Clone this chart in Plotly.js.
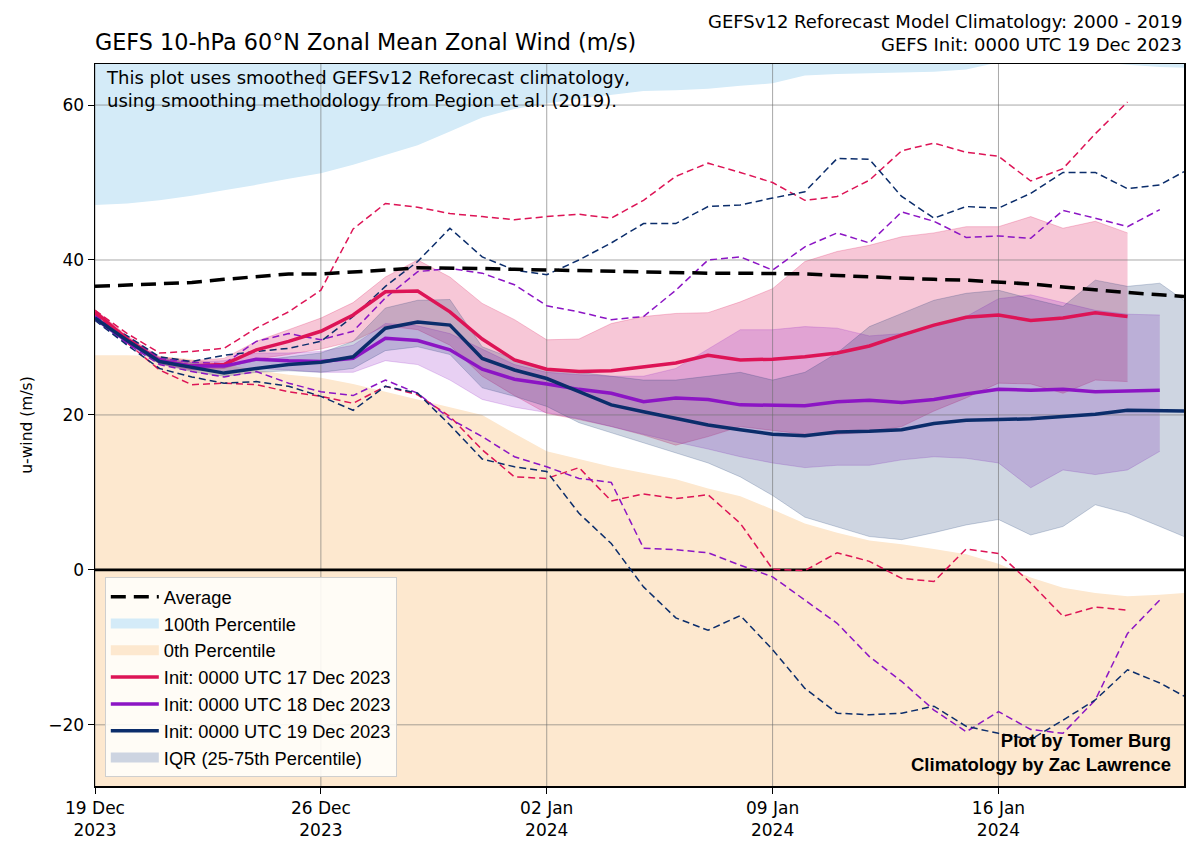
<!DOCTYPE html>
<html>
<head>
<meta charset="utf-8">
<script src="https://cdn.plot.ly/plotly-3.0.1.min.js"></script>
<style>html,body{margin:0;padding:0;background:#fff;}#chart{width:1200px;height:854px;}</style>
</head>
<body>
<div id="chart"></div>
<script>
// ---------------- DATA ----------------
const dates = ['2023-12-19','2023-12-20','2023-12-21','2023-12-22','2023-12-23','2023-12-24','2023-12-25',
  '2023-12-26','2023-12-27','2023-12-28','2023-12-29','2023-12-30','2023-12-31','2024-01-01','2024-01-02',
  '2024-01-03','2024-01-04','2024-01-05','2024-01-06','2024-01-07','2024-01-08','2024-01-09','2024-01-10',
  '2024-01-11','2024-01-12','2024-01-13','2024-01-14','2024-01-15','2024-01-16','2024-01-17','2024-01-18',
  '2024-01-19','2024-01-20','2024-01-21','2024-01-21 18:00'];

const climMax = [47.1,47.3,47.7,48.3,49.0,49.7,50.5,51.2,52.3,53.6,54.8,56.6,58.4,59.5,60.2,60.8,61.3,61.8,61.9,62.1,62.5,62.8,63.8,64.0,64.1,64.2,64.3,64.6,65.5,65.7,65.7,65.6,65.2,64.9,64.8];
const climMin = [27.7,27.7,27.6,27.2,26.5,25.8,25.2,24.8,24.0,23.0,22.0,21.0,20.0,17.6,15.3,14.3,13.3,12.5,11.7,10.5,9.5,7.8,6.0,4.8,3.8,3.3,2.7,2.0,0.8,-1.0,-2.3,-3.0,-3.4,-3.2,-3.0];
const average = [36.6,36.8,37.0,37.1,37.5,37.9,38.2,38.2,38.4,38.7,39.0,39.0,38.9,38.8,38.7,38.7,38.6,38.5,38.4,38.3,38.3,38.3,38.2,38.0,37.8,37.6,37.5,37.4,37.2,36.9,36.5,36.1,35.8,35.5,35.3];

// Init 0000 UTC 17 Dec 2023
const mean17 = [33.3,29.8,27.0,26.3,26.5,28.4,29.5,30.8,32.9,35.9,36.0,33.3,29.8,27.1,25.9,25.6,25.7,26.2,26.7,27.7,27.1,27.2,27.5,28.0,28.9,30.3,31.6,32.6,32.9,32.2,32.5,33.2,32.7];
const max17 = [33.5,30.5,28.0,28.2,28.6,31.2,33.3,36.1,44.0,47.3,46.8,46.0,45.6,45.2,45.6,45.9,45.4,47.7,50.8,52.5,51.3,50.0,47.7,48.2,50.3,54.1,55.1,53.9,53.4,50.2,51.8,56.3,60.4];
const min17 = [33.0,29.3,25.8,23.9,24.1,23.9,23.0,22.4,21.5,23.7,22.6,19.8,15.5,12.0,11.8,13.2,8.9,9.8,9.2,9.7,6.0,0.1,-0.1,2.2,1.1,-1.1,-1.5,2.7,2.1,-1.7,-6.0,-4.8,-5.2];
const q75_17 = [33.6,30.2,27.5,27.0,27.3,29.5,31.0,32.5,34.5,37.8,40.0,37.8,34.4,32.3,29.7,29.8,31.8,32.7,33.1,33.2,34.6,36.3,39.8,41.1,41.9,43.0,43.5,44.3,44.3,45.6,44.1,45.0,43.5];
const q25_17 = [33.0,29.4,26.6,25.8,26.0,27.2,27.8,28.5,29.5,31.5,31.0,29.0,25.0,22.5,20.2,19.4,18.5,17.4,16.1,17.2,18.5,18.0,17.5,17.5,17.8,18.5,20.5,22.2,24.1,24.0,22.8,24.5,24.3];

// Init 0000 UTC 18 Dec 2023
const mean18 = [32.5,29.5,27.0,26.3,26.3,27.2,27.0,26.9,27.3,29.9,29.6,28.4,25.9,24.6,24.0,23.3,22.8,21.7,22.2,22.0,21.3,21.3,21.2,21.7,21.9,21.6,22.0,22.7,23.3,23.2,23.3,23.0,23.1,23.2];
const max18 = [32.8,30.0,27.3,26.8,26.6,29.5,30.5,29.7,30.8,35.1,38.5,38.9,38.3,36.8,34.1,33.3,32.3,32.7,36.1,40.0,40.4,38.7,41.7,43.5,42.2,46.2,45.0,42.9,43.1,42.8,46.4,45.4,44.3,46.5];
const min18 = [32.3,29.2,26.5,25.6,24.9,25.6,24.1,23.0,22.5,24.5,22.8,19.5,17.2,14.6,13.3,11.8,11.3,2.8,2.6,2.2,0.6,-0.9,-3.9,-6.9,-11.2,-14.4,-18.1,-20.9,-18.3,-20.6,-21.1,-16.8,-8.2,-3.9];
const q75_18 = [32.8,29.8,27.4,26.8,27.0,28.0,28.0,28.2,29.0,31.8,31.5,30.5,28.5,26.5,25.5,25.2,25.0,25.0,26.0,28.5,31.0,31.0,31.4,31.2,30.2,30.5,31.5,32.7,35.0,35.5,34.5,33.5,33.0,32.9];
const q25_18 = [32.2,29.2,26.6,25.8,25.7,26.0,25.8,25.5,25.5,27.0,26.5,24.5,22.0,21.0,20.3,19.5,18.5,17.5,16.5,15.6,14.6,13.8,13.2,13.5,13.5,14.2,14.6,14.4,13.8,10.6,12.9,12.3,12.9,15.3];

// Init 0000 UTC 19 Dec 2023
const mean19 = [32.5,29.6,26.9,26.1,25.4,26.0,26.5,26.8,27.5,31.2,32.0,31.6,27.3,25.8,24.7,23.0,21.3,20.4,19.6,18.7,18.1,17.5,17.3,17.8,17.9,18.1,18.9,19.3,19.4,19.5,19.8,20.1,20.6,20.6,20.5];
const max19 = [32.6,30.2,27.5,26.9,27.7,28.2,28.6,29.5,32.7,36.6,39.8,44.1,40.4,38.7,38.1,40.0,42.2,44.7,44.7,46.9,47.1,48.0,48.8,53.1,53.0,48.2,45.4,46.9,46.7,48.6,51.3,51.3,49.2,49.7,51.4];
const min19 = [32.2,29.0,26.0,24.9,24.1,24.3,23.7,22.4,20.6,23.7,22.8,18.7,14.3,13.3,12.7,7.3,3.4,-2.2,-6.2,-7.8,-5.9,-10.3,-15.3,-18.5,-18.7,-18.5,-17.6,-20.2,-21.1,-21.9,-19.4,-16.8,-12.9,-14.6,-16.3];
const q75_19 = [32.8,29.9,27.3,26.7,26.2,27.0,27.5,28.0,29.5,33.8,34.8,34.9,28.8,27.2,26.0,25.5,25.0,24.5,24.5,25.0,25.5,24.5,25.5,28.0,31.4,33.1,34.8,35.7,36.1,35.0,34.0,37.4,36.6,37.0,34.8];
const q25_19 = [32.2,29.3,26.6,25.6,25.0,25.5,25.7,25.5,26.0,28.3,28.8,27.8,23.5,22.4,21.1,19.0,17.7,16.4,15.1,13.8,12.0,9.6,6.8,5.6,4.3,3.9,4.8,5.8,6.5,4.5,5.6,8.4,7.3,5.6,4.3];

const xTickVals = ['2023-12-19','2023-12-26','2024-01-02','2024-01-09','2024-01-16'];
const xTickText = ['19 Dec<br>2023','26 Dec<br>2023','02 Jan<br>2024','09 Jan<br>2024','16 Jan<br>2024'];
const yTickVals = [-20,0,20,40,60];
const initNames = ['Init: 0000 UTC 17 Dec 2023','Init: 0000 UTC 18 Dec 2023','Init: 0000 UTC 19 Dec 2023'];

// ---------------- STYLE ----------------
const yRange = [-27.9, 65.3];
const xRange = [dates[0], dates[dates.length-1]];
const FONT = 'DejaVu Sans, Verdana, sans-serif';
const LEGFONT = 'Liberation Sans, Arial, sans-serif';
const C17 = '#dd1456', C18 = '#8c15c4', C19 = '#0b2d6b';
const BLUE = '#d4ebf8', PEACH = '#fde8cf';
const rgba = (hex, a) => {
  const n = parseInt(hex.slice(1), 16);
  return `rgba(${(n>>16)&255},${(n>>8)&255},${n&255},${a})`;
};

const traces = [];
const xs = n => dates.slice(0, n);
const skip = {hoverinfo: 'skip'};

// climatology 100th percentile (above max line)
traces.push({x: dates, y: climMax, mode: 'lines', line: {width: 0}, showlegend: false, ...skip});
traces.push({x: dates, y: dates.map(() => yRange[1]), mode: 'lines', line: {width: 0, color: BLUE},
  fill: 'tonexty', fillcolor: BLUE, showlegend: false, ...skip});
// climatology 0th percentile (below min line)
traces.push({x: dates, y: dates.map(() => yRange[0]), mode: 'lines', line: {width: 0}, showlegend: false, ...skip});
traces.push({x: dates, y: climMin, mode: 'lines', line: {width: 0, color: PEACH},
  fill: 'tonexty', fillcolor: PEACH, showlegend: false, ...skip});

// IQR bands
const bands = [[q25_17, q75_17, C17, 0.24], [q25_18, q75_18, C18, 0.2], [q25_19, q75_19, C19, 0.2]];
bands.forEach(([lo, hi, c, a]) => {
  traces.push({x: xs(lo.length), y: lo, mode: 'lines', line: {width: 1, color: rgba(c, a)}, showlegend: false, ...skip});
  traces.push({x: xs(hi.length), y: hi, mode: 'lines', line: {width: 1, color: rgba(c, a)}, fill: 'tonexty',
    fillcolor: rgba(c, a), showlegend: false, ...skip});
});

// gridlines (above fills, below lines)
const gx = [], gy = [];
xTickVals.forEach(t => { gx.push(t, t, null); gy.push(yRange[0], yRange[1], null); });
yTickVals.filter(v => v !== 0).forEach(v => { gx.push(xRange[0], xRange[1], null); gy.push(v, v, null); });
traces.push({x: gx, y: gy, mode: 'lines', line: {width: 1, color: 'rgba(110,110,110,0.6)'}, showlegend: false, ...skip});
traces.push({x: xRange, y: [0, 0], mode: 'lines', line: {width: 2.6, color: '#000'}, showlegend: false, ...skip});

// ensemble min / max dashed
[[max17, min17, C17], [max18, min18, C18], [max19, min19, C19]].forEach(([mx, mn, c]) => {
  [mx, mn].forEach(s => traces.push({x: xs(s.length), y: s, mode: 'lines',
    line: {width: 1.5, color: c, dash: '7px,4px'}, showlegend: false, ...skip}));
});

// ensemble means
[[mean17, C17, 4], [mean18, C18, 5], [mean19, C19, 6]].forEach(([s, c, r], i) => {
  traces.push({x: xs(s.length), y: s, mode: 'lines', line: {width: 3.5, color: c},
    name: initNames[i], legendrank: r});
});

// average
traces.push({x: dates, y: average, mode: 'lines', line: {width: 3.5, color: '#000', dash: '15px,8px'},
  name: 'Average', legendrank: 1});

// legend-only swatches for the filled areas
[['100th Percentile', BLUE, 2], ['0th Percentile', PEACH, 3],
 ['IQR (25-75th Percentile)', 'rgb(205,212,225)', 7]].forEach(([n, c, r]) => {
  traces.push({x: [null], y: [null], mode: 'lines', line: {width: 15, color: c}, name: n, legendrank: r, ...skip});
});

const layout = {
  width: 1200, height: 854,
  margin: {l: 95, r: 16, t: 64, b: 68},
  paper_bgcolor: '#fff', plot_bgcolor: '#fff',
  font: {family: FONT, color: '#000', size: 16},
  title: {text: 'GEFS 10-hPa 60°N Zonal Mean Zonal Wind (m/s)', x: 95/1200, xanchor: 'left',
    y: 1 - 42/854, yanchor: 'middle', font: {family: FONT, size: 22.3, color: '#000'}},
  xaxis: {type: 'date', range: xRange, tickvals: xTickVals, ticktext: xTickText, showgrid: false, zeroline: false,
    showline: true, mirror: true, linecolor: '#000', linewidth: 1.5, ticks: 'outside', ticklen: 6, tickcolor: '#000',
    tickfont: {size: 17, family: FONT}},
  yaxis: {range: yRange, tickvals: yTickVals, showgrid: false, zeroline: false,
    showline: true, mirror: true, linecolor: '#000', linewidth: 1.5, ticks: 'outside', ticklen: 6, tickcolor: '#000',
    tickfont: {size: 17, family: FONT}, title: {text: 'u-wind (m/s)', font: {size: 15.5, family: FONT}, standoff: 12}},
  legend: {x: 0.009, y: 0.012, xanchor: 'left', yanchor: 'bottom', bgcolor: 'rgba(255,254,250,0.9)',
    bordercolor: '#cfcfcf', borderwidth: 1, font: {size: 18.3, family: LEGFONT}, itemwidth: 48, tracegroupgap: 0,
    traceorder: 'normal'},
  annotations: [
    {text: 'GEFSv12 Reforecast Model Climatology: 2000 - 2019', xref: 'paper', yref: 'paper', x: 1, y: (786-22)/722,
      xanchor: 'right', yanchor: 'middle', showarrow: false, font: {size: 18, family: FONT}},
    {text: 'GEFS Init: 0000 UTC 19 Dec 2023', xref: 'paper', yref: 'paper', x: 1, y: (786-45)/722,
      xanchor: 'right', yanchor: 'middle', showarrow: false, font: {size: 18, family: FONT}},
    {text: 'This plot uses smoothed GEFSv12 Reforecast climatology,<br>using smoothing methodology from Pegion et al. (2019).',
      xref: 'paper', yref: 'paper', x: 0.008, y: 0.998, xanchor: 'left', yanchor: 'top', align: 'left',
      showarrow: false, font: {size: 18, family: FONT}},
    {text: '<b>Plot by Tomer Burg<br>Climatology by Zac Lawrence</b>', xref: 'paper', yref: 'paper',
      x: 0.99, y: 0.012, xanchor: 'right', yanchor: 'bottom', align: 'right', showarrow: false,
      font: {size: 18.5, family: LEGFONT}}
  ],
  showlegend: true
};

Plotly.newPlot('chart', traces, layout, {staticPlot: true});
</script>
</body>
</html>
